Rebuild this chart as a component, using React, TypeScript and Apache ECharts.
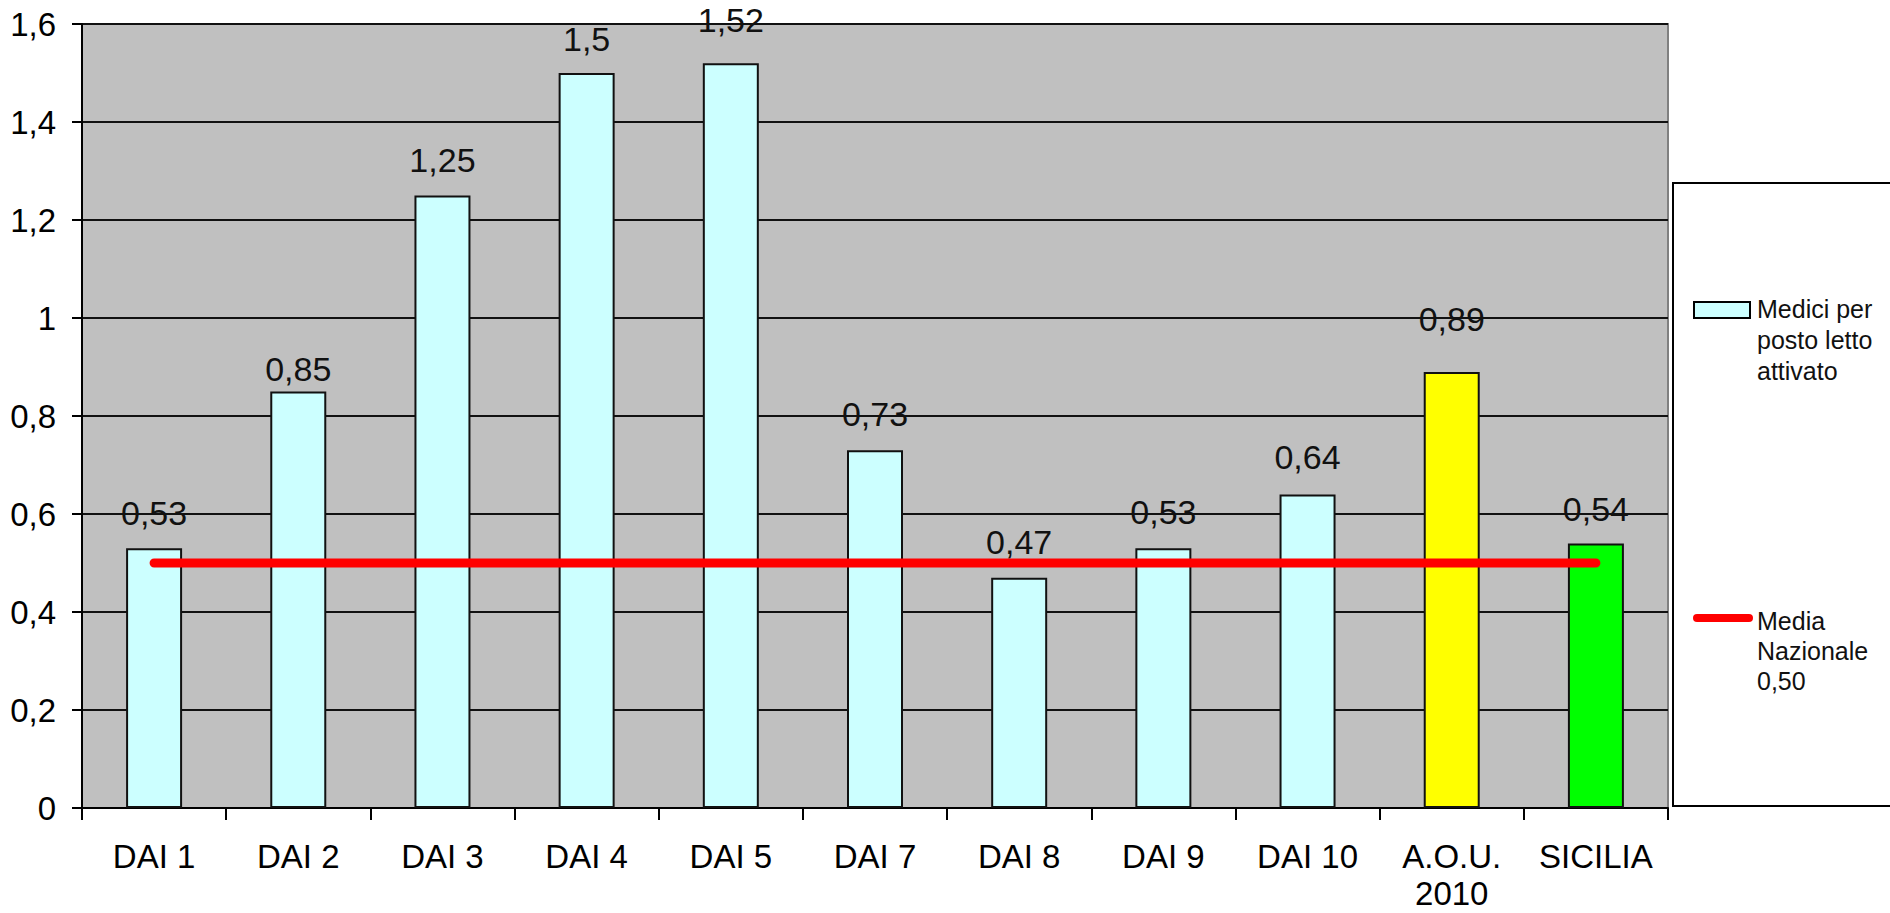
import React, { useEffect, useRef } from "react";
import * as echarts from "echarts";

const categories = ["DAI 1", "DAI 2", "DAI 3", "DAI 4", "DAI 5", "DAI 7", "DAI 8", "DAI 9", "DAI 10", "A.O.U.\n2010", "SICILIA"];
const mediciValues = [0.53, 0.85, 1.25, 1.5, 1.52, 0.73, 0.47, 0.53, 0.64, 0.89, 0.54];
const barColors = ["#CCFFFF", "#CCFFFF", "#CCFFFF", "#CCFFFF", "#CCFFFF", "#CCFFFF", "#CCFFFF", "#CCFFFF", "#CCFFFF", "#FFFF00", "#00FF00"];
const labelShift = [0, 12, -1, 1, -8, -1, -1, -1, -2, -18, 1];
const mediaNazionale = [0.5, 0.5, 0.5, 0.5, 0.5, 0.5, 0.5, 0.5, 0.5, 0.5, 0.5];
const barSeriesName = "Medici per\nposto letto\nattivato";
const lineSeriesName = "Media\nNazionale\n0,50";

const FONT = "'Liberation Sans', Arial, sans-serif";

export default function App() {
  const ref = useRef<HTMLDivElement>(null);
  useEffect(() => {
    document.body.style.margin = "0";
    const chart = echarts.init(ref.current!, null, { renderer: "svg" });
    const fmt = (v: number) => String(Math.round(v * 100) / 100).replace(".", ",");
    chart.setOption({
      animation: false,
      backgroundColor: "#ffffff",
      textStyle: { fontFamily: FONT },
      grid: {
        left: 82,
        top: 24,
        right: 222,
        bottom: 105,
        show: true,
        backgroundColor: "#C0C0C0",
        borderColor: "#808080",
        borderWidth: 2,
        containLabel: false,
        outerBoundsMode: "none",
      },
      xAxis: {
        type: "category",
        data: categories,
        axisLine: { show: true, lineStyle: { color: "#000", width: 2 } },
        axisTick: { show: true, length: 12, lineStyle: { color: "#000", width: 2 } },
        axisLabel: { color: "#000", fontSize: 33, fontFamily: FONT, margin: 30, lineHeight: 37, interval: 0 },
        splitLine: { show: false },
      },
      yAxis: {
        type: "value",
        min: 0,
        max: 1.6,
        interval: 0.2,
        axisLine: { show: true, lineStyle: { color: "#000", width: 2 } },
        axisTick: { show: true, length: 10, lineStyle: { color: "#000", width: 2 } },
        axisLabel: { color: "#000", fontSize: 33, fontFamily: FONT, margin: 26, formatter: (v: number) => fmt(v) },
        splitLine: { show: true, lineStyle: { color: "#111", width: 2 } },
      },
      series: [
        {
          name: barSeriesName,
          type: "bar",
          barWidth: 56,
          data: mediciValues.map((v, i) => ({
            value: v,
            itemStyle: { color: barColors[i], borderColor: "#111", borderWidth: 2 },
            label: { offset: [0, labelShift[i]] },
          })),
          label: {
            show: true,
            position: "top",
            distance: 18,
            color: "#111",
            fontSize: 34,
            fontFamily: FONT,
            formatter: (p: any) => fmt(p.value),
          },
          z: 2,
        },
        {
          name: lineSeriesName,
          type: "line",
          data: mediaNazionale,
          symbol: "none",
          lineStyle: { color: "#FF0000", width: 9, cap: "round" },
          z: 5,
        },
      ],
      graphic: [
        {
          type: "rect",
          shape: { x: 1673, y: 183, width: 260, height: 623 },
          style: { fill: "#ffffff", stroke: "#000", lineWidth: 2 },
          z: 10,
        },
        {
          type: "rect",
          shape: { x: 1694, y: 302, width: 56, height: 16 },
          style: { fill: "#CCFFFF", stroke: "#000", lineWidth: 2 },
          z: 11,
        },
        {
          type: "text",
          x: 1757,
          y: 293,
          style: { text: barSeriesName, fill: "#111", font: `25px ${FONT}`, lineHeight: 31, verticalAlign: "top", align: "left" },
          z: 11,
        },
        {
          type: "line",
          shape: { x1: 1697, y1: 618, x2: 1749, y2: 618 },
          style: { stroke: "#FF0000", lineWidth: 8, lineCap: "round" },
          z: 11,
        },
        {
          type: "text",
          x: 1757,
          y: 606,
          style: { text: lineSeriesName, fill: "#111", font: `25px ${FONT}`, lineHeight: 30, verticalAlign: "top", align: "left" },
          z: 11,
        },
      ],
    });
    return () => chart.dispose();
  }, []);
  return <div ref={ref} style={{ position: "fixed", left: 0, top: 0, width: 1890, height: 913 }} />;
}
